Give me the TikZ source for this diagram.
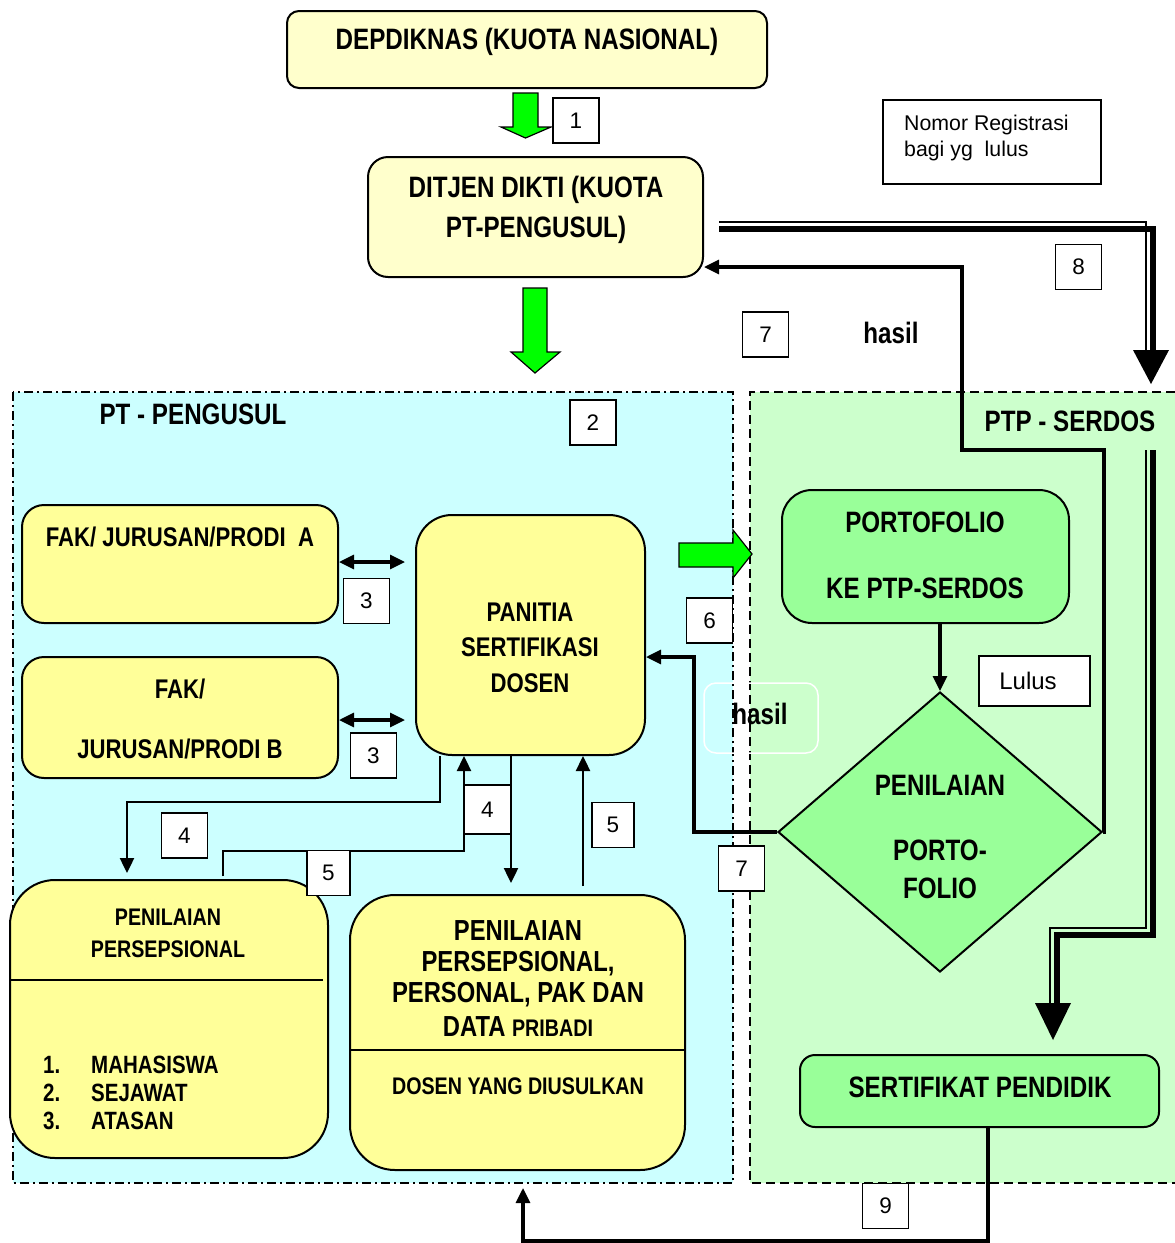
\documentclass[tikz,border=0pt]{standalone}
\usepackage{fontspec}
\setmainfont{Liberation Sans}
\newfontfamily\nf{Liberation Sans}[FakeStretch=0.82]
\usetikzlibrary{arrows.meta,shapes.geometric}
\definecolor{ylight}{HTML}{FFFFCC}
\definecolor{yel}{HTML}{FFFF99}
\definecolor{cyreg}{HTML}{CCFFFF}
\definecolor{grreg}{HTML}{CCFFCC}
\definecolor{gbox}{HTML}{99FF99}
\definecolor{garrow}{HTML}{00FF00}
\newcommand\fsz[1]{\fontsize{#1}{#1}\selectfont}
\begin{document}
\begin{tikzpicture}[x=1pt,y=-1pt,
  ybox/.style={draw, line width=2pt, fill=yel, inner sep=0pt},
  gboxs/.style={draw, line width=2pt, fill=gbox, inner sep=0pt},
  numbox/.style={draw, line width=1.6pt, fill=white, minimum width=46pt, minimum height=45pt, inner sep=0pt, font=\fsz{22.5}},
  btxt/.style={inner sep=0pt, font=\nf\bfseries\fsz{29.5}},
  stxt/.style={inner sep=0pt, font=\nf\bfseries\fsz{27}},
  ltxt/.style={inner sep=0pt, font=\nf\bfseries\fsz{25}},
  rtxt/.style={inner sep=0pt, font=\nf\bfseries\fsz{29}},
  conn/.style={line width=3.2pt},
  tip/.style={-{Triangle[length=15pt,width=14pt]}},
  dtip/.style={{Triangle[length=15pt,width=14pt]}-{Triangle[length=15pt,width=14pt]}},
  garr/.style={fill=garrow, draw=black, line width=1.2pt}
]
\useasboundingbox (0,0) rectangle (1175,1243);
\fill[white] (0,0) rectangle (1175,1243);

% regions
\fill[cyreg] (13,392) rectangle (733,1183);
\draw[line width=2pt, dash pattern=on 9pt off 4pt on 2pt off 4pt] (13,392) rectangle (733,1183);
\fill[grreg] (750,392) rectangle (1175,1183);
\draw[line width=2pt, dash pattern=on 9pt off 5pt] (1175,392) -- (750,392) -- (750,1183) -- (1175,1183);

% top boxes
\node[draw, line width=2pt, fill=ylight, rounded corners=12pt, minimum width=480pt, minimum height=77pt] (dep) at (527,49.5) {};
\node[draw, line width=2pt, fill=ylight, rounded corners=20pt, minimum width=335pt, minimum height=120pt] (dit) at (535.5,217) {};
\node[draw, line width=1.6pt, fill=white, minimum width=218pt, minimum height=84pt] (nomor) at (992,142) {};

% green block arrows
\path[garr] (513,93) -- (538,93) -- (538,127) -- (551,127) -- (525.5,138) -- (501,127) -- (513,127) -- cycle;
\path[garr] (523,288) -- (547,288) -- (547,352) -- (560,352) -- (535,373) -- (511,352) -- (523,352) -- cycle;
\path[garr] (679,543) -- (733,543) -- (733,530) -- (752,554) -- (733,578) -- (733,567) -- (679,567) -- cycle;

% inner boxes
\node[ybox, rounded corners=22pt, minimum width=316pt, minimum height=118pt] (faka) at (180,564) {};
\node[ybox, rounded corners=22pt, minimum width=316pt, minimum height=121pt] (fakb) at (180,717.5) {};
\node[ybox, rounded corners=36pt, minimum width=229pt, minimum height=240pt] (pan) at (530.5,635) {};
\node[ybox, rounded corners=45pt, minimum width=318pt, minimum height=278pt] (pl) at (169,1019) {};
\node[ybox, rounded corners=45pt, minimum width=335pt, minimum height=275pt] (pr) at (517.5,1032.5) {};
\draw[line width=2pt] (pl.west |- 0,980) -- (323,980);
\draw[line width=2pt] (pr.west |- 0,1050) -- (pr.east |- 0,1050);

\node[gboxs, rounded corners=30pt, minimum width=287pt, minimum height=133pt] (port) at (925.5,556.5) {};
\node[diamond, gboxs, minimum width=324pt, minimum height=280pt] (dia) at (940,832) {};
\node[gboxs, rounded corners=15pt, minimum width=359pt, minimum height=72pt] (sert) at (979.5,1091) {};
\node[draw, line width=1.6pt, fill=white, minimum width=111pt, minimum height=50pt] (lulus) at (1034.5,681) {};
\node[draw=white, line width=1.5pt, rounded corners=12pt, minimum width=114pt, minimum height=70pt] (hbox) at (761,718) {};

% connector coordinates
\coordinate (c7a) at (1104,450);
\coordinate (c7b) at (962,450);
\coordinate (c7c) at (962,267);
\coordinate (k7) at (694,657);
\coordinate (c9) at (988,1241);
\coordinate (c9e) at (523,1188);
\coordinate (c4a) at (440,802);
\coordinate (c4b) at (127,802);
\coordinate (c4c) at (127,873);
\coordinate (c5a) at (223,876);
\coordinate (c5b) at (464,851);
\coordinate (c4d) at (511,883);
\coordinate (c5c) at (583,886);

% connectors
\draw[conn, tip] (dia.east) -- (dia.east -| c7a) -- (c7a) -- (c7b) -- (c7c) -- (dit.east |- c7c);
\draw[conn, tip] (dia.west) -- (dia.west -| k7) -- (k7) -- (pan.east |- k7);
\draw[conn, tip] (port.south -| dia.north) -- (dia.north);
\draw[conn, dtip] (faka.east |- 0,562) -- (405,562);
\draw[conn, dtip] (fakb.east |- 0,720) -- (405,720);
\draw[line width=2.4pt, tip] (pan.south -| c4a) -- (c4a) -- (c4b) -- (c4c);
\draw[line width=2.4pt, tip] (c5a) -- (c5a |- c5b) -- (c5b) -- (pan.south -| c5b);
\draw[line width=2.4pt, tip] (pan.south -| c4d) -- (c4d);
\draw[line width=2.4pt, tip] (c5c) -- (pan.south -| c5c);
\draw[conn, tip] (sert.south -| c9) -- (c9) -- (c9 -| c9e) -- (c9e);

% double line arrows
\draw[line width=1.8pt] (dit.east |- 0,222) ++(15,0) -- (1146,222) -- (1146,352);
\draw[line width=6.5pt] (dit.east |- 0,229) ++(15,0) -- (1153,229) -- (1153,352);
\fill (1133,350) -- (1169,350) -- (1151,384) -- cycle;
\draw[line width=1.8pt] (1146,450) -- (1146,928) -- (1050,928) -- (1050,1005);
\draw[line width=6.5pt] (1153,450) -- (1153,935) -- (1057,935) -- (1057,1005);
\fill (1035,1003) -- (1071,1003) -- (1053,1040) -- cycle;

% number boxes
\node[numbox] (n1) at (576,120.5) {1};
\node[numbox] (n2) at (593,422.5) {2};
\node[numbox] (n3a) at (366.5,601) {3};
\node[numbox] (n3b) at (373.5,755.5) {3};
\node[numbox] (n4a) at (184.5,835.5) {4};
\node[numbox, minimum height=49pt] (n4b) at (487.5,809.5) {4};
\node[numbox, minimum width=43pt] (n5a) at (328.5,873) {5};
\node[numbox, minimum width=42pt] (n5b) at (613,825) {5};
\node[numbox] (n6) at (709.5,620.5) {6};
\node[numbox] (n7a) at (765.5,334.5) {7};
\node[numbox] (n7b) at (741.5,868.5) {7};
\node[numbox] (n8) at (1078.5,267) {8};
\node[numbox] (n9) at (885.5,1206) {9};

% texts
\node[btxt] (t1) at (527,42) {DEPDIKNAS (KUOTA NASIONAL)};
\node[btxt] (t2) at (536,190) {DITJEN DIKTI (KUOTA};
\node[btxt] (t3) at (536,230) {PT-PENGUSUL)};
\node[inner sep=0pt, font=\fsz{21.3}, anchor=west, align=left] (t4) at (904,138) {Nomor Registrasi\\[5pt]bagi yg\ \ lulus};
\node[btxt] (t5) at (891,333) {hasil};
\node[btxt] (t6) at (193,414) {PT - PENGUSUL};
\node[btxt] (t7) at (1070,421) {PTP - SERDOS};
\node[stxt] (t8) at (180,537) {FAK/ JURUSAN/PRODI\ \ A};
\node[stxt] (t9) at (180,689) {FAK/};
\node[stxt] (t10) at (180,749) {JURUSAN/PRODI B};
\node[stxt] (t11) at (530,612) {PANITIA};
\node[stxt] (t12) at (530,647) {SERTIFIKASI};
\node[stxt] (t13) at (530,683) {DOSEN};
\node[btxt] (t14) at (925,522) {PORTOFOLIO};
\node[btxt] (t15) at (925,588) {KE PTP-SERDOS};
\node[inner sep=0pt, font=\fsz{24}] (t16) at (1028,681) {Lulus};
\node[btxt] (t17) at (760,714) {hasil};
\node[btxt] (t18) at (940,785) {PENILAIAN};
\node[btxt] (t19) at (940,850) {PORTO-};
\node[btxt] (t20) at (940,888) {FOLIO};
\node[btxt] (t21) at (980,1087) {SERTIFIKAT PENDIDIK};
\node[inner sep=0pt, font=\nf\bfseries\fsz{24}] (t22) at (168,917) {PENILAIAN};
\node[inner sep=0pt, font=\nf\bfseries\fsz{24}] (t23) at (168,949) {PERSEPSIONAL};
\node[ltxt, anchor=west] (t24) at (43,1065) {1.};
\node[ltxt, anchor=west] (t25) at (43,1093) {2.};
\node[ltxt, anchor=west] (t26) at (43,1121) {3.};
\node[ltxt, anchor=west] (t27) at (91,1065) {MAHASISWA};
\node[ltxt, anchor=west] (t28) at (91,1093) {SEJAWAT};
\node[ltxt, anchor=west] (t29) at (91,1121) {ATASAN};
\node[rtxt] (t30) at (518,931) {PENILAIAN};
\node[rtxt] (t31) at (518,964) {PERSEPSIONAL,};
\node[rtxt] (t32) at (518,995) {PERSONAL, PAK DAN};
\node[rtxt] (t33) at (518,1027) {DATA {\fsz{24}PRIBADI}};
\node[inner sep=0pt, font=\nf\bfseries\fsz{24}] (t34) at (518,1086) {DOSEN YANG DIUSULKAN};
\end{tikzpicture}
\end{document}
